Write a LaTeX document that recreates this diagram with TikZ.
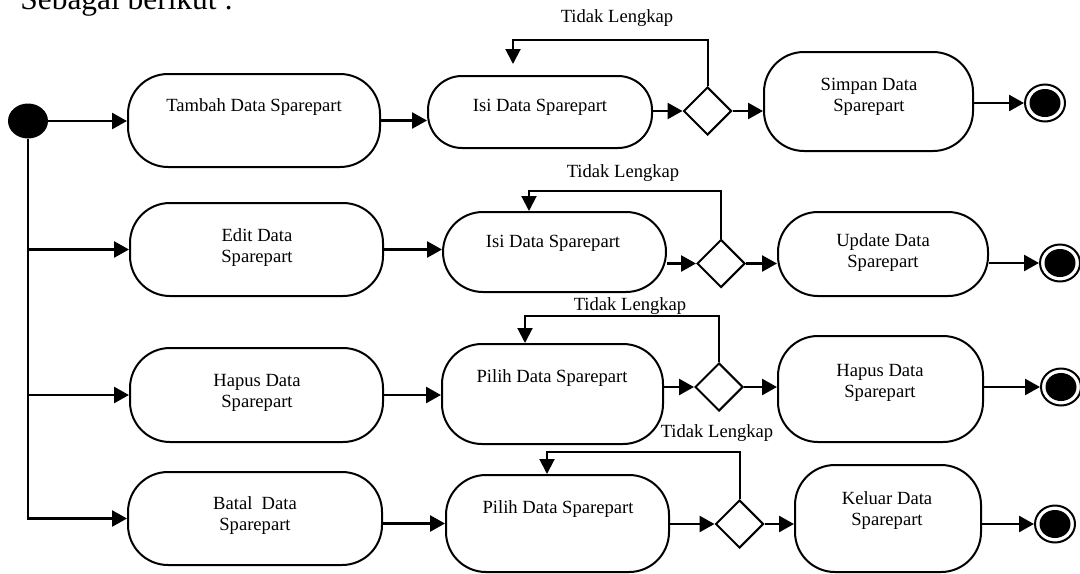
\documentclass[tikz,border=0pt]{standalone}
\usepackage{fontspec}
\setmainfont{Liberation Serif}
\usetikzlibrary{arrows.meta,shapes.geometric}
\begin{document}
\begin{tikzpicture}[x=0.5pt,y=-0.5pt,
  box/.style={draw,line width=1pt,rounded corners=20pt,inner sep=0pt},
  txt/.style={font=\fontsize{9.3pt}{10.5pt}\selectfont,align=center,inner sep=0pt},
  dec/.style={draw,diamond,line width=1pt,minimum width=24pt,minimum height=24pt,inner sep=0pt},
  arr/.style={line width=1.3pt,-{Triangle[length=7.5pt,width=8pt]}},
  fb/.style={line width=1pt,-{Triangle[length=7.5pt,width=7.5pt]}},
  endo/.style={draw,ellipse,line width=1pt,minimum width=20pt,minimum height=18.5pt,inner sep=0pt},
  endi/.style={fill,ellipse,minimum width=15.5pt,minimum height=14pt,inner sep=0pt},
]
\useasboundingbox (0,0) rectangle (1080,573);
\clip (0,0) rectangle (1080,573);

\node[anchor=base west,font=\fontsize{15.7pt}{18pt}\selectfont,inner sep=0pt] (title) at (20,10) {Sebagai berikut :};

% initial
\node[fill,ellipse,minimum width=20pt,minimum height=17.5pt,inner sep=0pt] (init) at (28,121) {};

% row 1
\node[box,minimum width=126pt,minimum height=46.5pt] (tambah) at (254,120.5) {};
\node[txt] (ttambah) at (254,107) {Tambah Data Sparepart};
\node[box,rounded corners=17pt,minimum width=112pt,minimum height=36pt] (isi1) at (540,112) {};
\node[txt] (tisi1) at (540,107) {Isi Data Sparepart};
\node[dec] (d1) at (707.5,111) {};
\node[box,minimum width=104.5pt,minimum height=49.5pt] (simpan) at (868.5,101.5) {};
\node[txt] (tsimpan) at (869,96.5) {Simpan Data\\Sparepart};
\node[endo] (e1) at (1045,103) {};
\node[endi] (e1i) at (1045,103) {};

% row 2
\node[box,minimum width=126.5pt,minimum height=46.5pt] (edit) at (256.5,249.5) {};
\node[txt] (tedit) at (257,247.5) {Edit Data\\Sparepart};
\node[box,minimum width=111.5pt,minimum height=40pt] (isi2) at (554.5,252) {};
\node[txt] (tisi2) at (553,243) {Isi Data Sparepart};
\node[dec] (d2) at (721,263.5) {};
\node[box,minimum width=105pt,minimum height=42pt] (update) at (883,254) {};
\node[txt] (tupdate) at (883,253) {Update Data\\Sparepart};
\node[endo] (e2) at (1060,263) {};
\node[endi] (e2i) at (1060,263) {};

% row 3
\node[box,minimum width=126.5pt,minimum height=47pt] (hapus1) at (256.5,395) {};
\node[txt] (thapus1) at (257,392.5) {Hapus Data\\Sparepart};
\node[box,minimum width=110.5pt,minimum height=50pt] (pilih1) at (552.5,394) {};
\node[txt] (tpilih1) at (552,378) {Pilih Data Sparepart};
\node[dec] (d3) at (719,387) {};
\node[box,minimum width=102.5pt,minimum height=53pt] (hapus2) at (880.5,389) {};
\node[txt] (thapus2) at (880,382.5) {Hapus Data\\Sparepart};
\node[endo] (e3) at (1061,387) {};
\node[endi] (e3i) at (1061,387) {};

% row 4
\node[box,minimum width=127pt,minimum height=46.5pt] (batal) at (255,518.5) {};
\node[txt] (tbatal) at (255,516) {Batal\ \ Data\\Sparepart};
\node[box,minimum width=111.5pt,minimum height=48.5pt] (pilih2) at (557.5,523.5) {};
\node[txt] (tpilih2) at (558,509) {Pilih Data Sparepart};
\node[dec] (d4) at (739.5,524) {};
\node[box,minimum width=93pt,minimum height=53.5pt] (keluar) at (888,518.5) {};
\node[txt] (tkeluar) at (887,511) {Keluar Data\\Sparepart};
\node[endo] (e4) at (1055,524) {};
\node[endi] (e4i) at (1055,524) {};

% labels
\node[txt] (l1) at (617,18) {Tidak Lengkap};
\node[txt] (l2) at (623,173) {Tidak Lengkap};
\node[txt] (l3) at (630,306) {Tidak Lengkap};
\node[txt] (l4) at (717,433) {Tidak Lengkap};

% connectors from initial
\draw[arr] (init.east) -- (init.east -| tambah.west);
\draw[arr] (init.south) |- (batal.west);
\draw[arr] (init.south |- edit.west) -- (edit.west);
\draw[arr] (init.south |- hapus1.west) -- (hapus1.west);

% row 1
\draw[arr] (tambah.east) -- (tambah.east -| isi1.west);
\draw[arr] (isi1.east |- d1.west) -- (d1.west);
\draw[arr] (d1.east) -- (d1.east -| simpan.west);
\draw[arr] (simpan.east |- e1.west) -- (e1.west);

% row 2
\draw[arr] (edit.east) -- (edit.east -| isi2.west);
\draw[arr] (isi2.east |- d2.west) -- (d2.west);
\draw[arr] (d2.east) -- (d2.east -| update.west);
\draw[arr] (update.east |- e2.west) -- (e2.west);

% row 3
\draw[arr] (hapus1.east) -- (hapus1.east -| pilih1.west);
\draw[arr] (pilih1.east |- d3.west) -- (d3.west);
\draw[arr] (d3.east) -- (d3.east -| hapus2.west);
\draw[arr] (hapus2.east |- e3.west) -- (e3.west);

% row 4
\draw[arr] (batal.east |- pilih2.west) -- (pilih2.west);
\draw[arr] (pilih2.east |- d4.west) -- (d4.west);
\draw[arr] (d4.east) -- (d4.east -| keluar.west);
\draw[arr] (keluar.east |- e4.west) -- (e4.west);

% feedback loops
\coordinate (c1) at (513,40);
\coordinate (c2) at (529,191);
\coordinate (c3) at (525,316);
\coordinate (c4) at (547,452);
\draw[fb,shorten >=5.5pt] (d1.north) |- (c1) -- (c1 |- isi1.north);
\draw[fb] (d2.north) |- (c2) -- (c2 |- isi2.north);
\draw[fb] (d3.north) |- (c3) -- (c3 |- pilih1.north);
\draw[fb] (d4.north) |- (c4) -- (c4 |- pilih2.north);
\end{tikzpicture}
\end{document}
